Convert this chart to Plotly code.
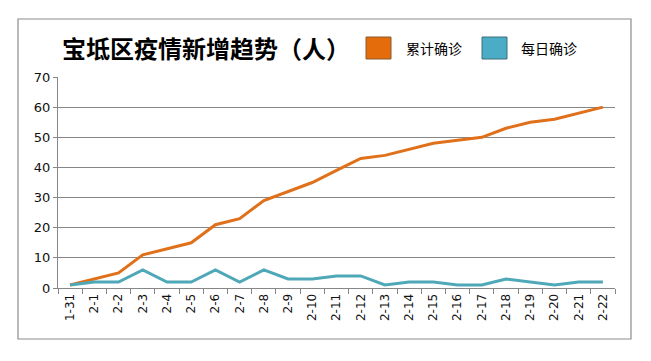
import plotly.graph_objects as go

dates = ["1-31", "2-1", "2-2", "2-3", "2-4", "2-5", "2-6", "2-7", "2-8", "2-9", "2-10",
         "2-11", "2-12", "2-13", "2-14", "2-15", "2-16", "2-17", "2-18", "2-19", "2-20",
         "2-21", "2-22"]
cumulative = [1, 3, 5, 11, 13, 15, 21, 23, 29, 32, 35, 39, 43, 44, 46, 48, 49, 50, 53, 55, 56, 58, 60]
daily = [1, 2, 2, 6, 2, 2, 6, 2, 6, 3, 3, 4, 4, 1, 2, 2, 1, 1, 3, 2, 1, 2, 2]
name_cum = "累计确诊"
name_daily = "每日确诊"
title_text = "宝坻区疫情新增趋势（人）"

W, H = 651, 361
L, R, T, B = 58, 615, 77, 288

def px(x):
    return (x - L) / (R - L)

def py(y):
    return (B - y) / (B - T)

ORANGE = "#E0701A"
BLUE = "#4EA8B8"
CJK = "Noto Sans CJK SC"

fig = go.Figure()
fig.add_trace(go.Scatter(x=dates, y=cumulative, mode="lines", name=name_cum,
                         line=dict(color=ORANGE, width=3), showlegend=False))
fig.add_trace(go.Scatter(x=dates, y=daily, mode="lines", name=name_daily,
                         line=dict(color=BLUE, width=3), showlegend=False))

fig.update_layout(
    width=W, height=H,
    margin=dict(l=L, r=W - R, t=T, b=H - B),
    paper_bgcolor="white", plot_bgcolor="white",
    font=dict(family="DejaVu Sans", color="#000000", size=12),
    xaxis=dict(type="category", tickangle=-90, tickson="boundaries",
               ticks="outside", ticklen=5, tickcolor="#868686",
               showline=True, linecolor="#868686", linewidth=1,
               showgrid=False, tickfont=dict(size=12, family="DejaVu Sans", color="#111"),
               range=[-0.5, len(dates) - 0.5]),
    yaxis=dict(range=[0, 70], dtick=10, ticks="outside", ticklen=4,
               tickcolor="#868686", showline=True, linecolor="#868686",
               showgrid=True, gridcolor="#868686", gridwidth=1,
               zeroline=False, tickfont=dict(size=13, family="DejaVu Sans", color="#111")),
)

shapes = [
    dict(type="rect", xref="paper", yref="paper", x0=px(18), x1=px(631), y0=py(339), y1=py(19),
         line=dict(color="#8C8C8C", width=1.2), fillcolor="rgba(0,0,0,0)", layer="below"),
    dict(type="rect", xref="paper", yref="paper", x0=px(366), x1=px(391), y0=py(59), y1=py(37),
         line=dict(color="#8A5A30", width=1), fillcolor="#E46C0A"),
    dict(type="rect", xref="paper", yref="paper", x0=px(482), x1=px(507), y0=py(59), y1=py(37),
         line=dict(color="#3C6E7A", width=1), fillcolor="#4BACC6"),
]
fig.update_layout(shapes=shapes)

annotations = [
    dict(text="<b>" + title_text + "</b>", xref="paper", yref="paper", x=px(60), y=py(47),
         xanchor="left", yanchor="middle", showarrow=False,
         font=dict(family=CJK, size=24, color="#000")),
    dict(text=name_cum, xref="paper", yref="paper", x=px(404), y=py(48),
         xanchor="left", yanchor="middle", showarrow=False,
         font=dict(family=CJK, size=14, color="#000")),
    dict(text=name_daily, xref="paper", yref="paper", x=px(519), y=py(48),
         xanchor="left", yanchor="middle", showarrow=False,
         font=dict(family=CJK, size=14, color="#000")),
]
fig.update_layout(annotations=annotations)

fig.write_html("out.html", config={"displayModeBar": False},
               post_script="document.body.style.margin='0px';")
